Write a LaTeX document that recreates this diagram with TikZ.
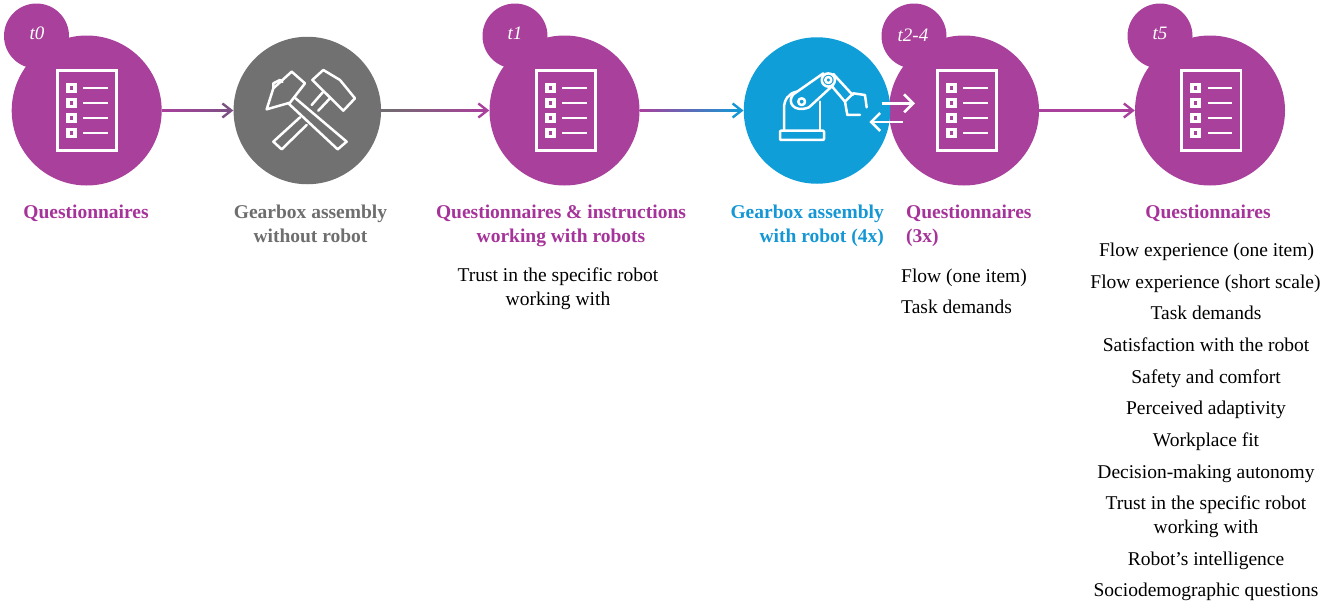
\documentclass[tikz,border=0pt]{standalone}
\usepackage{fontspec}
\setmainfont{Liberation Serif}
\usetikzlibrary{arrows.meta,calc}
\definecolor{qpurple}{HTML}{A9409B}
\definecolor{qtext}{HTML}{A6339A}
\definecolor{bgray}{HTML}{717171}
\definecolor{gtext}{HTML}{6E6E6E}
\definecolor{rblue}{HTML}{0F9ED8}
\definecolor{btext}{HTML}{1497D4}
\definecolor{arr}{HTML}{7E4F85}
\tikzset{
  x=1pt,y=-1pt,
  bigq/.style={circle,fill=qpurple,minimum size=150pt,inner sep=0pt},
  smallq/.style={circle,fill=qpurple,minimum size=65pt,inner sep=0pt},
  bigg/.style={circle,fill=bgray,minimum size=147.5pt,inner sep=0pt},
  bigb/.style={circle,fill=rblue,minimum size=146.5pt,inner sep=0pt},
  tlabel/.style={text=white,font=\itshape\fontsize{19}{19}\selectfont,inner sep=0pt},
  txt/.style={inner sep=0pt,text height=13pt,text depth=4pt,font=\fontsize{19.5}{24}\selectfont},
  headq/.style={txt,text=qtext,font=\bfseries\fontsize{19.5}{24}\selectfont,align=center},
  headg/.style={txt,text=gtext,font=\bfseries\fontsize{19.5}{24}\selectfont,align=center},
  headb/.style={txt,text=btext,font=\bfseries\fontsize{19.5}{24}\selectfont,align=right},
  body/.style={txt,text=black,align=center},
  tip/.style={-{Straight Barb[length=9pt,width=14pt,line width=2.4pt]},line width=2.4pt},
  icon/.style={white,line width=2.5pt,line join=round,line cap=round},
  pics/qform/.style={code={
    \draw[white,line width=2.8pt] (-29.6,-39.8) rectangle (30,39.8);
    \foreach \yy in {-22.5,-7.5,7.5,22.5}{
      \fill[white] (-20.8,\yy-5.3) rectangle (-10.2,\yy+5.3);
      \fill[qpurple] (-17.2,\yy-1.8) rectangle (-13.8,\yy+1.8);
      \draw[white,line width=2.6pt] (-3.5,\yy) -- (21,\yy);
    }
  }}
}
\begin{document}
\begin{tikzpicture}
\useasboundingbox (0,0) rectangle (1325,605);
% circles
\node[smallq] (s0) at (36.5,36) {};
\node[bigq] (q0) at (86.7,110.5) {};
\node[bigg] (g) at (307.3,110.5) {};
\node[smallq] (s1) at (515,36) {};
\node[bigq] (q1) at (564.5,110.5) {};
\node[smallq] (s2) at (914,36) {};
\node[bigq] (q2) at (964,110.5) {};
\node[bigb] (b) at (817,110.5) {};
\node[smallq] (s5) at (1160,36) {};
\node[bigq] (q5) at (1210,110.5) {};
\node[tlabel] (l0) at (37,33) {t0};
\node[tlabel] (l1) at (515,33) {t1};
\node[tlabel] (l2) at (913,35) {t2-4};
\node[tlabel] (l5) at (1160,33) {t5};
% connectors
\draw[tip,arr] (q0) -- (g);
\draw[tip,qpurple] (g) -- (q1);
\draw[tip,btext] (q1) -- (b);
\draw[tip,qpurple] (q2) -- (q5);
\shade[left color=qpurple,right color=arr] ($(q0.east)+(0,-1.2)$) rectangle ($(g.west)+(-6,1.2)$);
\shade[left color=gtext,right color=qpurple] ($(g.east)+(0,-1.2)$) rectangle ($(q1.west)+(-6,1.2)$);
\shade[left color=qpurple,right color=btext] ($(q1.east)+(0,-1.2)$) rectangle ($(b.west)+(-6,1.2)$);
% forms
\path (86.7,110.5) pic {qform};
\path (565.8,110.5) pic {qform};
\path (966.7,110.5) pic {qform};
\path (1211,110.5) pic {qform};
% hammers
\begin{scope}[shift={(255,60)},x=0.3333pt,y=-0.3333pt,icon]
\draw (35,148) -- (55,85) -- (110,35) -- (150,70) -- (105,128) -- cycle;
\draw (55,85) -- (55,70) -- (75,60) -- (82,66);
\draw (118,112) -- (275,245) -- (248,268) -- (100,130);
\draw (172,60) -- (205,30) -- (255,60) -- (300,115) -- (265,152) -- cycle;
\draw (205,95) -- (170,135);
\draw (225,115) -- (190,152);
\draw (135,172) -- (55,245) -- (80,268) -- (155,195);
\end{scope}
% robot
\begin{scope}[shift={(770,60)},x=0.3333pt,y=-0.3333pt,icon]
\draw[rounded corners=1pt] (30,212) rectangle (162,240);
\draw (42,212) -- (42,145) .. controls (42,120) and (55,100) .. (80,95);
\draw (150,212) -- (150,125);
\draw (70,103) -- (160,40);
\draw (117,142) -- (190,75);
\draw (70,103) .. controls (50,125) and (70,160) .. (117,142);
\draw (95,125) circle (3.4pt);
\draw[fill=rblue] (175,60) circle (6.6pt);
\draw (175,60) circle (3pt);
\draw (190,42) -- (248,105);
\draw (185,78) -- (225,125);
\draw (225,125) -- (250,100) -- (285,105) -- (290,142);
\draw (225,125) -- (232,165) -- (270,165);
\end{scope}
% double arrows
\begin{scope}[shift={(700,0)},x=0.3333pt,y=-0.3333pt]
\coordinate (da) at (545,310); \coordinate (db) at (645,310);
\coordinate (dc) at (608,366); \coordinate (dd) at (508,366);
\draw[white,line width=2.6pt,-{Straight Barb[length=9pt,width=18pt,line width=2.6pt]}] (da) -- (db);
\draw[white,line width=2.6pt,-{Straight Barb[length=9pt,width=18pt,line width=2.6pt]}] (dc) -- (dd);
\end{scope}
% text
\node[headq] (t1) at (86,214) {Questionnaires};
\node[headg] (t2) at (310.5,238) {Gearbox assembly\\without robot};
\node[headq] (t3) at (561,238) {Questionnaires \& instructions\\working with robots};
\node[body] (t3b) at (558,301) {Trust in the specific robot\\working with};
\node[headb,anchor=east] (t4) at (884,238) {Gearbox assembly\\with robot (4x)};
\node[headq,align=left,anchor=west] (t5) at (906,238) {Questionnaires\\(3x)};
\node[body,anchor=west] (t6) at (901,278) {Flow (one item)};
\node[body,anchor=west] (t7) at (901,309) {Task demands};
\node[headq] (t8) at (1208,214) {Questionnaires};
\node[body] (a1) at (1206.5,252) {Flow experience (one item)};
\node[body] (a2) at (1205.5,284) {Flow experience (short scale)};
\node[body] (a3) at (1206,315) {Task demands};
\node[body] (a4) at (1206,347) {Satisfaction with the robot};
\node[body] (a5) at (1206,379) {Safety and comfort};
\node[body] (a6) at (1206,410) {Perceived adaptivity};
\node[body] (a7) at (1206,442) {Workplace fit};
\node[body] (a8) at (1206,474) {Decision-making autonomy};
\node[body] (a9) at (1206,529) {Trust in the specific robot\\working with};
\node[body] (a10) at (1206,561) {Robot’s intelligence};
\node[body] (a11) at (1206,592) {Sociodemographic questions};
\end{tikzpicture}
\end{document}
